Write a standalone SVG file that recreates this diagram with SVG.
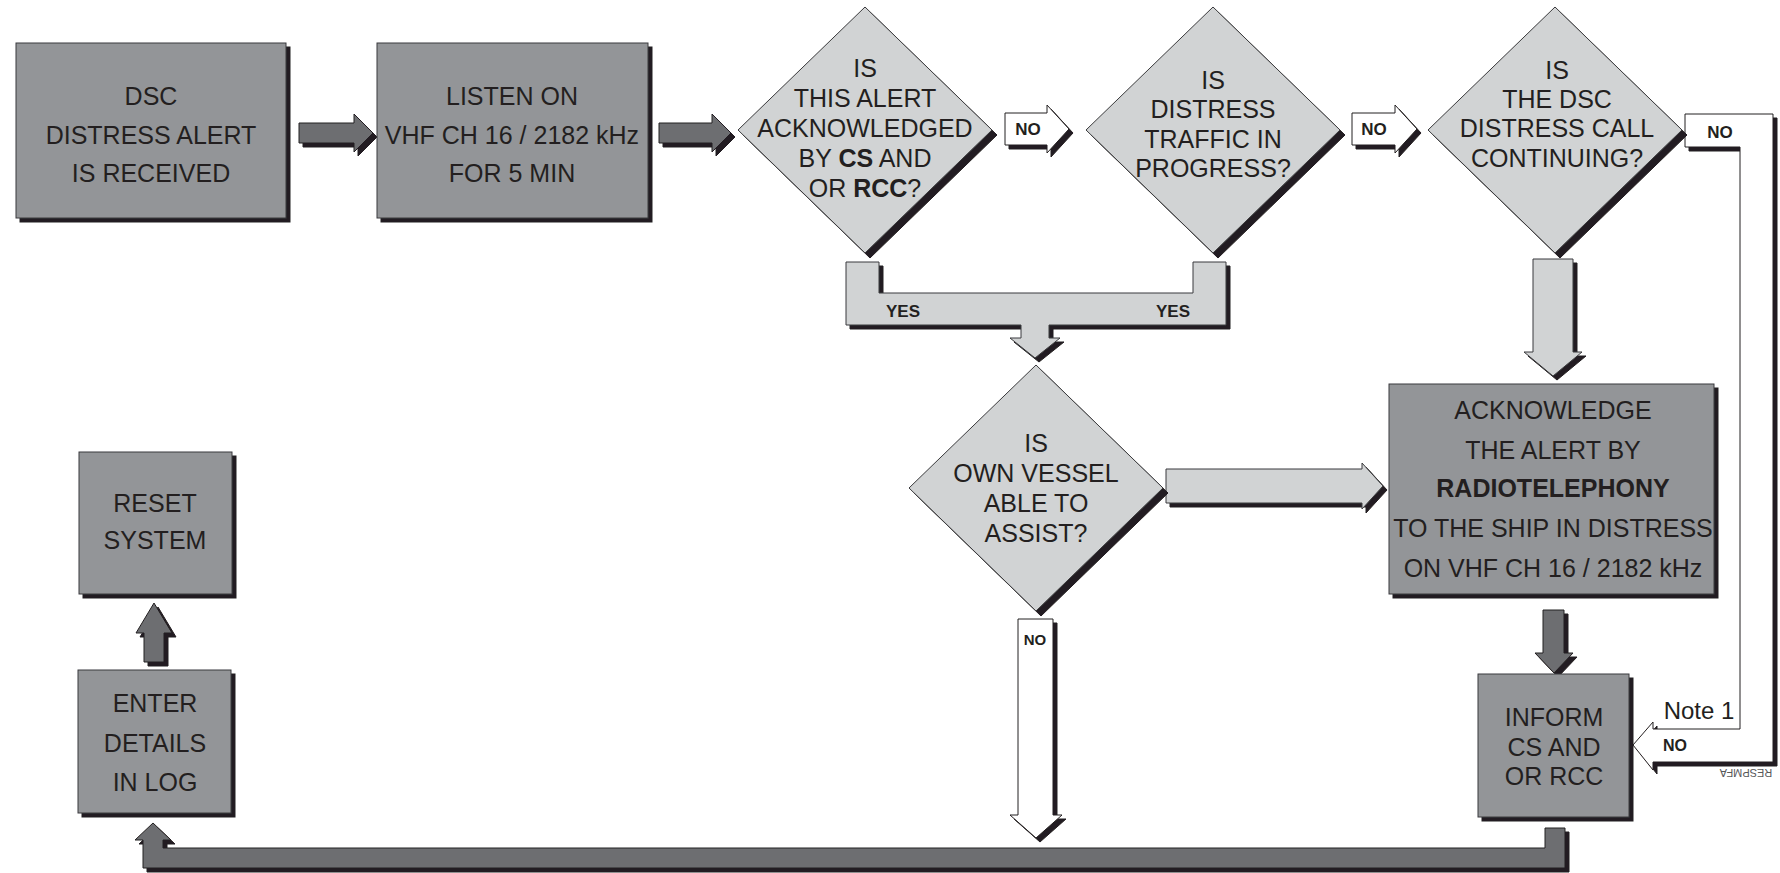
<svg xmlns="http://www.w3.org/2000/svg" width="1780" height="873" viewBox="0 0 1780 873">
<defs>
<filter id="sh" x="-0.1" y="-0.1" width="1.3" height="1.3">
<feOffset in="SourceAlpha" dx="4" dy="4" result="o"/>
<feFlood flood-color="#231f20"/>
<feComposite in2="o" operator="in" result="s"/>
<feMerge><feMergeNode in="s"/><feMergeNode in="SourceGraphic"/></feMerge>
</filter>
<filter id="sh5" x="-0.1" y="-0.1" width="1.3" height="1.3">
<feOffset in="SourceAlpha" dx="5" dy="5" result="o"/>
<feFlood flood-color="#231f20"/>
<feComposite in2="o" operator="in" result="s"/>
<feMerge><feMergeNode in="s"/><feMergeNode in="SourceGraphic"/></feMerge>
</filter>
<style>
.box{fill:#939598;stroke:#3a3a3c;stroke-width:1;filter:url(#sh)}
.dia{fill:#d1d3d4;stroke:#3a3a3c;stroke-width:1;filter:url(#sh5)}
.lt{fill:#d1d3d4;stroke:#3a3a3c;stroke-width:1;filter:url(#sh)}
.dk{fill:#6d6e71;stroke:#231f20;stroke-width:1;filter:url(#sh)}
.wh{fill:#ffffff;stroke:#231f20;stroke-width:1;filter:url(#sh)}
text{font-family:"Liberation Sans",Arial,sans-serif;fill:#231f20}
.t{font-size:25px;text-anchor:middle}
.b{font-weight:bold}
.lab{font-size:17px;font-weight:bold;text-anchor:middle}
</style>
</defs>
<rect width="1780" height="873" fill="#ffffff"/>

<g id="connectors">
<polygon class="dk" points="299,123 354,123 354,114 373,133 354,152 354,143 299,143"/>
<polygon class="dk" points="659,123 712,123 712,114 731,133 712,152 712,143 659,143"/>
<g id="no1">
<polygon class="wh" points="1005,113 1047,113 1047,105 1069,129 1047,153 1047,145 1005,145"/>
<text class="lab" x="1028" y="135">NO</text>
</g>
<g id="no2">
<polygon class="wh" points="1352,113 1395,113 1395,105 1417,129 1395,153 1395,145 1352,145"/>
<text class="lab" x="1374" y="135">NO</text>
</g>
<g id="yes">
<polygon class="lt" points="846,262 879,262 879,293 1193,293 1193,262 1226,262 1226,325 1049,325 1049,338 1060,338 1035,358 1010,338 1021,338 1021,325 846,325"/>
<text class="lab" x="903" y="317">YES</text>
<text class="lab" x="1173" y="317">YES</text>
</g>
<polygon class="lt" points="1533,259 1573,259 1573,352 1582,352 1553,376 1524,352 1533,352"/>
<polygon class="lt" points="1166,469 1362,469 1362,463 1383,486 1362,509 1362,503 1166,503"/>
<polygon class="dk" points="1543,610 1564,610 1564,653 1573,653 1554,673 1535,653 1543,653"/>
<g id="no3">
<polygon class="wh" points="1018,619 1053,619 1053,815 1062,815 1036,838 1010,815 1018,815"/>
<text class="b" x="1035" y="645" style="font-size:15px;text-anchor:middle">NO</text>
</g>
<g id="no4">
<polygon class="wh" points="1685,114 1773,114 1773,762 1653,762 1653,770 1633,745 1653,722 1653,729 1740,729 1740,147 1685,147"/>
<text class="lab" x="1720" y="138">NO</text>
<text class="b" x="1675" y="751" style="font-size:16px;text-anchor:middle">NO</text>
</g>
<polygon class="dk" points="1545,828 1565,828 1565,868 143,868 143,840 135,840 153,823 171,840 163,840 163,848 1545,848"/>
<polygon class="dk" points="144,662 164,662 164,633 172,633 154,603 136,633 144,633"/>
</g>

<g id="n-dsc">
<rect class="box" x="16" y="43" width="270" height="175"/>
<text class="t" x="151" y="105">DSC</text>
<text class="t" x="151" y="144">DISTRESS ALERT</text>
<text class="t" x="151" y="182">IS RECEIVED</text>
</g>
<g id="n-listen">
<rect class="box" x="377" y="43" width="271" height="175"/>
<text class="t" x="512" y="105">LISTEN ON</text>
<text class="t" x="512" y="144">VHF CH 16 / 2182 kHz</text>
<text class="t" x="512" y="182">FOR 5 MIN</text>
</g>
<g id="n-ack-q">
<polygon class="dia" points="865,7 992,130 865,253 738,130"/>
<text class="t" x="865" y="77">IS</text>
<text class="t" x="865" y="107">THIS ALERT</text>
<text class="t" x="865" y="137">ACKNOWLEDGED</text>
<text class="t" x="865" y="167">BY <tspan class="b">CS</tspan> AND</text>
<text class="t" x="865" y="197">OR <tspan class="b">RCC</tspan>?</text>
</g>
<g id="n-traffic">
<polygon class="dia" points="1213,7 1340,130 1213,253 1086,130"/>
<text class="t" x="1213" y="89">IS</text>
<text class="t" x="1213" y="118">DISTRESS</text>
<text class="t" x="1213" y="148">TRAFFIC IN</text>
<text class="t" x="1213" y="177">PROGRESS?</text>
</g>
<g id="n-continuing">
<polygon class="dia" points="1555,7 1682,130 1555,253 1428,130"/>
<text class="t" x="1557" y="79">IS</text>
<text class="t" x="1557" y="108">THE DSC</text>
<text class="t" x="1557" y="137">DISTRESS CALL</text>
<text class="t" x="1557" y="167">CONTINUING?</text>
</g>
<g id="n-assist">
<polygon class="dia" points="1036,365 1163,488 1036,611 909,488"/>
<text class="t" x="1036" y="452">IS</text>
<text class="t" x="1036" y="482">OWN VESSEL</text>
<text class="t" x="1036" y="512">ABLE TO</text>
<text class="t" x="1036" y="542">ASSIST?</text>
</g>
<g id="n-acknowledge">
<rect class="box" x="1389" y="384" width="325" height="210"/>
<text class="t" x="1553" y="419">ACKNOWLEDGE</text>
<text class="t" x="1553" y="459">THE ALERT BY</text>
<text class="t b" x="1553" y="497">RADIOTELEPHONY</text>
<text class="t" x="1553" y="537">TO THE SHIP IN DISTRESS</text>
<text class="t" x="1553" y="577">ON VHF CH 16 / 2182 kHz</text>
</g>
<g id="n-inform">
<rect class="box" x="1478" y="674" width="151" height="143"/>
<text class="t" x="1554" y="726">INFORM</text>
<text class="t" x="1554" y="756">CS AND</text>
<text class="t" x="1554" y="785">OR RCC</text>
</g>
<g id="n-reset">
<rect class="box" x="79" y="452" width="153" height="142"/>
<text class="t" x="155" y="512">RESET</text>
<text class="t" x="155" y="549">SYSTEM</text>
</g>
<g id="n-log">
<rect class="box" x="78" y="670" width="153" height="143"/>
<text class="t" x="155" y="712">ENTER</text>
<text class="t" x="155" y="752">DETAILS</text>
<text class="t" x="155" y="791">IN LOG</text>
</g>
<text x="1699" y="719" style="font-size:24px;text-anchor:middle">Note 1</text>
<text x="1746" y="777" transform="rotate(180 1746 773)" style="font-size:11px;text-anchor:middle;fill:#58595b">RESPMFA</text>
</svg>
